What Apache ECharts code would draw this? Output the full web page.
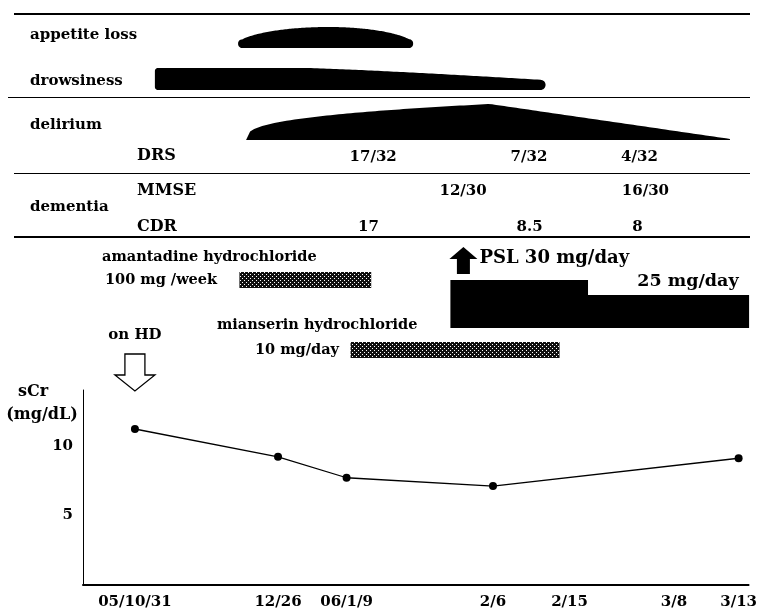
<!DOCTYPE html>
<html><head><meta charset="utf-8">
<script src="https://cdn.jsdelivr.net/npm/echarts@6/dist/echarts.min.js"></script>
<style>html,body{margin:0;padding:0;background:#fff}#c{width:760px;height:612px}</style>
</head><body><div id="c"></div>
<script>
// ---------------- data ----------------
var dateLabels = ['05/10/31', '12/26', '06/1/9', '2/6', '2/15', '3/8', '3/13'];
var datePos = [7.8, 29.3, 39.6, 61.6, 73.1, 88.8, 98.5];      // position of each date on the timeline
var sCrDates = ['05/10/31', '12/26', '06/1/9', '2/6', '3/13'];
var sCrValues = [11.2, 9.2, 7.7, 7.1, 9.1];
var yTickValues = [5, 10];

var symptomNames = ['appetite loss', 'drowsiness', 'delirium'];
var symptomStart = [23.3, 10.8, 24.5];
var symptomPeak = [36.9, 33.5, 61.1];
var symptomEnd = [49.6, 69.5, 97.2];

var scoreNames = ['DRS', 'MMSE', 'CDR'];
var drsLabels = ['17/32', '7/32', '4/32'];
var drsPos = [43.6, 67.0, 83.6];
var mmseLabels = ['12/30', '16/30'];
var mmsePos = [57.1, 84.5];
var cdrLabels = ['17', '8.5', '8'];
var cdrPos = [42.9, 67.1, 83.3];

var drugNames = ['amantadine hydrochloride', 'mianserin hydrochloride'];
var drugDoses = ['100 mg /week', '10 mg/day'];
var drugStart = [23.5, 40.2];
var drugEnd = [43.3, 71.6];

var pslDoses = ['PSL 30 mg/day', '25 mg/day'];
var pslStart = [55.2, 75.8];
var pslEnd = [75.8, 100];

var hdLabel = 'on HD';
var hdDate = '05/10/31';

// ---------------- layout / style ----------------
var FONT = '"DejaVu Serif", serif';
function font(sz) { return 'bold ' + sz + 'px ' + FONT; }
var L = {
  symptomRows: [{ bottom: 48, h: 21, capL: 4, capR: 4 }, { bottom: 90, h: 22, capL: 3, capR: 6 }, { bottom: 140, h: 36, capL: 0, capR: 0 }],
  scoreRowY: [157, 191, 227],
  drugRows: [{ top: 272, h: 16 }, { top: 342, h: 16 }],
  pslTop: [280, 295], pslBottom: 328,
  pslArrow: { top: 247, neck: 259, bottom: 274, head: 14, shaft: 6.5, dx: 13 },
  hdArrow: { top: 354, neck: 375, bottom: 391, head: 20, shaft: 10 },
  hdLabelY: 335
};

function makePattern() {
  var c = document.createElement('canvas'); c.width = 4; c.height = 4;
  var g = c.getContext('2d');
  g.fillStyle = '#111'; g.fillRect(0, 0, 4, 4);
  g.fillStyle = '#fff'; g.fillRect(0, 0, 1, 1); g.fillRect(2, 2, 1, 1);
  return c;
}
var pattern = { image: makePattern(), repeat: 'repeat' };

function profile(i, t, tp) {
  if (i === 0) {
    var r = t < tp ? tp / 0.954 : (1 - tp) / 0.954;
    var d = (t - tp) / r; return Math.sqrt(Math.max(0, 1 - d * d));
  } else if (i === 1) {
    if (t <= tp) return 1;
    var u = (t - tp) / (1 - tp); return 1 - 0.55 * Math.pow(u, 1.2);
  }
  if (t <= tp) return Math.pow(t / tp, 0.35);
  return 1 - 0.97 * (t - tp) / (1 - tp);
}

function arc(pts, cx, cy, r, a0, a1) {
  for (var k = 0; k <= 8; k++) {
    var a = (a0 + (a1 - a0) * k / 8) * Math.PI / 180;
    pts.push([cx + r * Math.cos(a), cy + r * Math.sin(a)]);
  }
}

// flatten scores
var scoreText = [], scorePos = [], scoreRow = [];
[[drsLabels, drsPos], [mmseLabels, mmsePos], [cdrLabels, cdrPos]].forEach(function (p, r) {
  p[0].forEach(function (t, k) { scoreText.push(t); scorePos.push(p[1][k]); scoreRow.push(r); });
});

function X(api, v) { return api.coord([v, 0])[0]; }

var graphics = [];
function gtext(t, x, y, sz, align) {
  graphics.push({ type: 'text', x: x, y: y, silent: true,
    style: { text: t, font: font(sz), fill: '#000', align: align || 'left', verticalAlign: 'middle' } });
}
function gline(x1, x2, y, w) {
  graphics.push({ type: 'line', silent: true, shape: { x1: x1, y1: y, x2: x2, y2: y }, style: { stroke: '#000', lineWidth: w } });
}
gline(14, 750, 14, 2);
gline(8, 750, 97.5, 1);
gline(14, 750, 173.5, 1);
gline(14, 750, 237, 2);
gtext(symptomNames[0], 30, 35, 15);
gtext(symptomNames[1], 30, 81, 15);
gtext(symptomNames[2], 30, 125, 15);
gtext(scoreNames[0], 137, 156, 16);
gtext(scoreNames[1], 137, 191, 16);
gtext('dementia', 30, 207, 15);
gtext(scoreNames[2], 137, 227, 16);
gtext(drugNames[0], 102, 257, 14.5);
gtext(drugDoses[0], 105, 280, 14.5);
gtext(drugNames[1], 217, 325, 14.5);
gtext(drugDoses[1], 255, 350, 14.5);
gtext('sCr', 33, 392, 16, 'center');
gtext('(mg/dL)', 42, 415, 16, 'center');

var chart = echarts.init(document.getElementById('c'), null, { renderer: 'canvas' });
var option = {
  animation: false,
  backgroundColor: '#fff',
  grid: { left: 83, right: 8, top: 390, bottom: 27 },
  xAxis: {
    type: 'value', min: 0, max: 100,
    axisLine: { show: true, onZero: false, lineStyle: { color: '#000', width: 2 } },
    axisTick: { show: false }, splitLine: { show: false },
    axisLabel: {
      customValues: datePos, margin: 10, color: '#000', fontFamily: FONT, fontWeight: 'bold', fontSize: 15,
      formatter: function (v) { var i = datePos.indexOf(v); return i >= 0 ? dateLabels[i] : ''; }
    }
  },
  yAxis: {
    type: 'value', min: 0, max: 14,
    axisLine: { show: true, lineStyle: { color: '#000', width: 1 } },
    axisTick: { show: false }, splitLine: { show: false },
    axisLabel: { customValues: yTickValues, margin: 10, color: '#000', fontFamily: FONT, fontWeight: 'bold', fontSize: 15 }
  },
  graphic: graphics,
  series: [
    {
      type: 'line', name: 'sCr',
      data: sCrDates.map(function (d, i) { return [datePos[dateLabels.indexOf(d)], sCrValues[i]]; }),
      symbol: 'circle', symbolSize: 8,
      lineStyle: { color: '#000', width: 1.3 }, itemStyle: { color: '#000' }
    },
    { // symptom shapes
      type: 'custom', clip: false, silent: true,
      data: symptomNames.map(function (n, i) { return [symptomStart[i], 0, symptomEnd[i], symptomPeak[i], i]; }),
      renderItem: function (params, api) {
        var i = api.value(4);
        var x0 = X(api, api.value(0)), x1 = X(api, api.value(2)), xp = X(api, api.value(3));
        var row = L.symptomRows[i], tp = (xp - x0) / (x1 - x0), pts = [], N = 120;
        var yb = row.bottom;
        function top(x) { return yb - row.h * profile(i, (x - x0) / (x1 - x0), tp); }
        var rl = Math.min(row.capL, (yb - top(x0 + row.capL)) / 2);
        var rr = Math.min(row.capR, (yb - top(x1 - row.capR)) / 2);
        if (rl > 0) {
          var ytl = top(x0 + rl);
          arc(pts, x0 + rl, yb - rl, rl, 90, 180);
          arc(pts, x0 + rl, ytl + rl, rl, 180, 270);
        } else { pts.push([x0, yb]); }
        for (var k = 0; k <= N; k++) {
          var x = (x0 + rl) + (x1 - rr - x0 - rl) * k / N; pts.push([x, top(x)]);
        }
        if (rr > 0) {
          var ytr = top(x1 - rr);
          arc(pts, x1 - rr, ytr + rr, rr, 270, 360);
          arc(pts, x1 - rr, yb - rr, rr, 0, 90);
        } else { pts.push([x1, yb]); }
        return { type: 'polygon', shape: { points: pts }, style: { fill: '#000' } };
      }
    },
    { // score values
      type: 'custom', clip: false, silent: true,
      data: scorePos.map(function (p, k) { return [p, 0, k]; }),
      renderItem: function (params, api) {
        var k = api.value(2);
        return { type: 'text', x: X(api, api.value(0)), y: L.scoreRowY[scoreRow[k]],
          style: { text: scoreText[k], font: font(15), fill: '#000', align: 'center', verticalAlign: 'middle' } };
      }
    },
    { // drug bars
      type: 'custom', clip: false, silent: true,
      data: drugNames.map(function (n, i) { return [drugStart[i], 0, drugEnd[i], i]; }),
      renderItem: function (params, api) {
        var i = api.value(3), x0 = X(api, api.value(0)), x1 = X(api, api.value(2)), r = L.drugRows[i];
        return { type: 'rect', shape: { x: x0, y: r.top, width: x1 - x0, height: r.h }, style: { fill: pattern } };
      }
    },
    { // PSL blocks
      type: 'custom', clip: false, silent: true,
      data: pslDoses.map(function (n, i) { return [pslStart[i], 0, pslEnd[i], i]; }),
      renderItem: function (params, api) {
        var i = api.value(3), x0 = X(api, api.value(0)), x1 = X(api, api.value(2));
        var top = L.pslTop[i], children = [
          { type: 'rect', shape: { x: x0, y: top, width: x1 - x0 + 0.5, height: L.pslBottom - top }, style: { fill: '#000' } }
        ];
        if (i === 0) {
          var a = L.pslArrow, cx = x0 + a.dx;
          children.push({ type: 'polygon', shape: { points: [
            [cx - a.head, a.neck], [cx, a.top], [cx + a.head, a.neck], [cx + a.shaft, a.neck],
            [cx + a.shaft, a.bottom], [cx - a.shaft, a.bottom], [cx - a.shaft, a.neck]] }, style: { fill: '#000' } });
          children.push({ type: 'text', x: cx + a.head + 2, y: 258,
            style: { text: pslDoses[0], font: font(18), fill: '#000', align: 'left', verticalAlign: 'middle' } });
        } else {
          children.push({ type: 'text', x: x1 - 10, y: 281,
            style: { text: pslDoses[1], font: font(17.5), fill: '#000', align: 'right', verticalAlign: 'middle' } });
        }
        return { type: 'group', children: children };
      }
    },
    { // start of hemodialysis
      type: 'custom', clip: false, silent: true,
      data: [[datePos[dateLabels.indexOf(hdDate)], 0]],
      renderItem: function (params, api) {
        var cx = X(api, api.value(0)), a = L.hdArrow;
        return { type: 'group', children: [
          { type: 'polygon', shape: { points: [
            [cx - a.shaft, a.top], [cx + a.shaft, a.top], [cx + a.shaft, a.neck], [cx + a.head, a.neck],
            [cx, a.bottom], [cx - a.head, a.neck], [cx - a.shaft, a.neck]] },
            style: { fill: '#fff', stroke: '#000', lineWidth: 1.3 } },
          { type: 'text', x: cx, y: L.hdLabelY,
            style: { text: hdLabel, font: font(15), fill: '#000', align: 'center', verticalAlign: 'middle' } }
        ] };
      }
    }
  ]
};
chart.setOption(option);
</script>
</body></html>
